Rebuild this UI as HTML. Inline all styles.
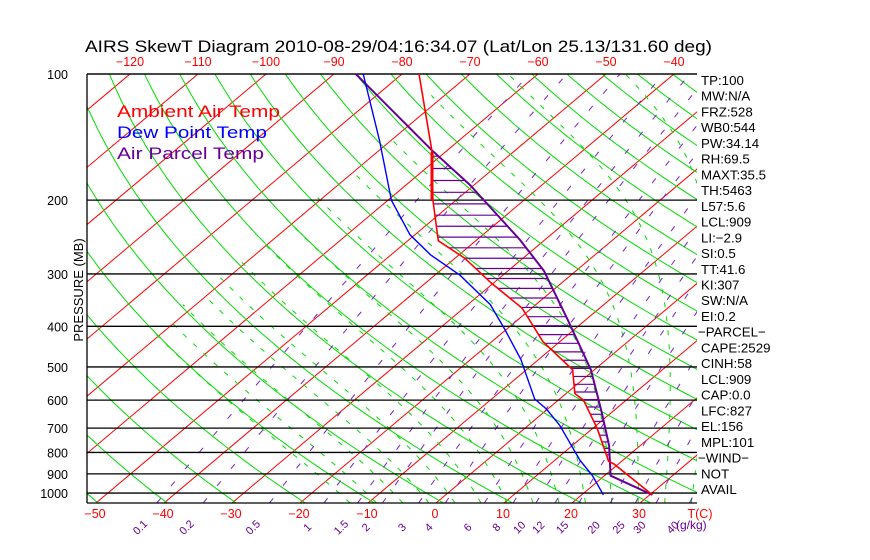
<!DOCTYPE html>
<html><head><meta charset="utf-8"><style>
body{margin:0;background:#fff;width:870px;height:560px;overflow:hidden}
svg{display:block;font-family:"Liberation Sans",sans-serif}
</style></head><body>
<svg id="c" width="870" height="560" viewBox="0 0 870 560">
<defs><clipPath id="box"><rect x="87" y="74" width="610" height="429"/></clipPath></defs>
<text x="85" y="52" font-size="16.5" fill="#000" textLength="627" lengthAdjust="spacingAndGlyphs">AIRS SkewT Diagram 2010-08-29/04:16:34.07 (Lat/Lon 25.13/131.60 deg)</text>
<text transform="translate(83,290) rotate(-90)" font-size="13" text-anchor="middle">PRESSURE (MB)</text>
<g id="bg" clip-path="url(#box)"></g>
<g id="fg"></g>
<g font-size="17">
<text x="117" y="117" fill="#ff0000" textLength="163" lengthAdjust="spacingAndGlyphs">Ambient Air Temp</text>
<text x="117" y="138" fill="#0000ff" textLength="150" lengthAdjust="spacingAndGlyphs">Dew Point Temp</text>
<text x="117" y="159" fill="#660099" textLength="147" lengthAdjust="spacingAndGlyphs">Air Parcel Temp</text>
</g>
</svg>
<script>
const pLevels=[100,200,300,400,500,600,700,800,900,1000];
const bottomTemps=[-50,-40,-30,-20,-10,0,10,20,30];
const topTemps=[-120,-110,-100,-90,-80,-70,-60,-50,-40];
const mixRatios=[0.1,0.2,0.5,1,1.5,2,3,4,6,8,10,12,15,20,25,30,40];
const tempP=[100,152,200,250,275,316,362,435,508,579,600,700,840,853,1010];
const tempT=[-77.5,-62.3,-53.4,-45.5,-38.6,-30.2,-21.4,-12.5,-3.2,1.3,3.7,10.6,18.1,19.4,30.4];
const dewP=[100,144,200,242,270,302,355,408,480,596,630,689,835,908,1010];
const dewT=[-85.7,-71.7,-59.5,-50.7,-44.2,-36.3,-26.7,-20.1,-12.6,-3.7,-0.2,4.6,13.7,18.2,23.2];
const parP=[100,152,184,249,295,389,508,638,770,909,1010];
const parT=[-86.8,-62.3,-50.6,-33.6,-24.7,-12.3,-0.5,8.3,15.4,20.9,30.4];
const sideLabels=["TP:100","MW:N/A","FRZ:528","WB0:544","PW:34.14","RH:69.5","MAXT:35.5","TH:5463","L57:5.6","LCL:909","LI:-2.9","SI:0.5","TT:41.6","KI:307","SW:N/A","EI:0.2","-PARCEL-","CAPE:2529","CINH:58","LCL:909","CAP:0.0","LFC:827","EL:156","MPL:101","-WIND-","NOT","AVAIL"];

const X0=87,X1=697,Y0=74,Y1=503,K=182,SK=510/429;
const yP=p=>Y0+K*Math.log(p/100);
const xT=(T,y)=>436+6.8*T+SK*(Y1-y);
const ns="http://www.w3.org/2000/svg";
const bg=document.getElementById('bg'),fg=document.getElementById('fg');
function mk(tag,at,par){const e=document.createElementNS(ns,tag);for(const k in at)e.setAttribute(k,at[k]);par.appendChild(e);return e;}
const pBot=100*Math.exp((Y1-Y0)/K);
function curve(fT,p0,p1,n){let pts=[];for(let i=0;i<=n;i++){const lp=Math.log(p0)+(Math.log(p1)-Math.log(p0))*i/n;const p=Math.exp(lp);const y=yP(p);pts.push(xT(fT(p),y).toFixed(1)+","+y.toFixed(1));}return pts.join(" ");}
for(let T=-160;T<=50;T+=10){
 const l=mk('line',{x1:xT(T,Y1),y1:Y1,x2:xT(T,Y0),y2:Y0,stroke:'#ff0000','stroke-width':1},bg);
 
 
}
for(let th=200;th<=520;th+=10){
 const pl=mk('polyline',{points:curve(p=>th*Math.pow(p/1000,0.286)-273.15,pBot,90,40),fill:'none',stroke:'#00dd00','stroke-width':1},bg);
 
 
}
function es(T){return 6.112*Math.exp(17.67*T/(T+243.5));}
function dTdl(Tk,p){const rs=0.622*es(Tk-273.15)/(p-es(Tk-273.15));return (287*Tk+2.5e6*rs)/(1004+2.5e6*2.5e6*rs*0.622/(287*Tk*Tk));}
for(let T0=-16;T0<=44;T0+=4){
 let pts=[],T=T0+273.15,lp=Math.log(1000);
 let Tb=T;let lpb=lp;const stepsD=10,dl=(Math.log(pBot)-lp)/stepsD;
 for(let i=0;i<stepsD;i++){Tb+=dTdl(Tb,Math.exp(lpb))*dl;lpb+=dl;}
 T=Tb;lp=lpb;const n=80,d=(Math.log(100)-lp)/n;
 for(let i=0;i<=n;i++){const p=Math.exp(lp),y=yP(p);if(T-273.15<-72)break;pts.push(xT(T-273.15,y).toFixed(1)+","+y.toFixed(1));T+=dTdl(T,p)*d;lp+=d;}
 const pl=mk('polyline',{points:pts.join(" "),fill:'none',stroke:'#00dd00','stroke-width':1,'stroke-dasharray':'5 9'},bg);
 
 
}
function tw(w,p){const e=w*p/(622+w);const a=Math.log(e/6.112);return 243.5*a/(17.67-a);}
mixRatios.forEach(w=>{
 const pl=mk('polyline',{points:curve(p=>tw(w,p),pBot,100,40),fill:'none',stroke:'#7722cc','stroke-width':1,'stroke-dasharray':'6 16'},bg);
 
 
 const x=xT(tw(w,pBot),Y1)-14;
 const t=mk('text',{x:x,y:530,'font-size':11,fill:'#660099','text-anchor':'middle',transform:`rotate(-45 ${x} 530)`},fg);
 t.textContent=w;
 
 
});
pLevels.forEach(p=>{const y=yP(p);
 const l=mk('line',{x1:X0,y1:y,x2:X1,y2:y,stroke:'#000','stroke-width':1.3},fg);
 
 
 const t=mk('text',{x:68,y:y+5,'font-size':12.5,'text-anchor':'end'},fg);t.textContent=p;
 
 
});
mk('line',{x1:X0,y1:Y1,x2:X1,y2:Y1,stroke:'#000','stroke-width':1.3},fg);
mk('line',{x1:X0,y1:Y0,x2:X1,y2:Y0,stroke:'#000','stroke-width':1.3},fg);
mk('line',{x1:X0,y1:Y0,x2:X0,y2:Y1,stroke:'#000','stroke-width':1.3},fg);
bottomTemps.forEach(T=>{const t=mk('text',{x:xT(T,Y1)-1,y:518,'font-size':12.5,fill:'#ff0000','text-anchor':'middle'},fg);t.textContent=T<0?'\u2212'+(-T):T;
 
 });
const tc=mk('text',{x:700,y:518,'font-size':12.5,fill:'#ff0000','text-anchor':'middle'},fg);tc.textContent='T(C)';


const gk=mk('text',{x:676,y:529,'font-size':12,fill:'#660099'},fg);gk.textContent='(g/kg)';


topTemps.forEach(T=>{const t=mk('text',{x:xT(T,Y0),y:66,'font-size':12.5,fill:'#ff0000','text-anchor':'middle'},fg);t.textContent='\u2212'+(-T);
 
 });
function xAt(P,T,y){const pts=P.map((p,i)=>[xT(T[i],yP(p)),yP(p)]);for(let i=0;i<pts.length-1;i++){if(y>=pts[i][1]&&y<=pts[i+1][1]){const f=(y-pts[i][1])/(pts[i+1][1]-pts[i][1]||1);return pts[i][0]+f*(pts[i+1][0]-pts[i][0]);}}return null;}
{let y=yP(152)+6;while(y<yP(855)){const a=xAt(tempP,tempT,y),b=xAt(parP,parT,y);if(a!=null&&b!=null&&b>a){
 const l=mk('line',{x1:a,y1:y,x2:b,y2:y,stroke:'#660099','stroke-width':1.2},fg);
 
 }
 y+=12-6*(y-170)/300;}}
function prof(P,T,col,w,name){const pl=mk('polyline',{points:P.map((p,i)=>xT(T[i],yP(p)).toFixed(1)+","+yP(p).toFixed(1)).join(" "),fill:'none',stroke:col,'stroke-width':w},fg);
 
 }
prof(parP,parT,'#660099',2,'parcel-temp-line');
prof(tempP,tempT,'#ff0000',1.6,'ambient-temp-line');
prof(dewP,dewT,'#0000ff',1.4,'dewpoint-line');
mk('line',{x1:432,y1:152,x2:432,y2:200,stroke:'#ff0000','stroke-width':3},fg);
sideLabels.forEach((s,i)=>{const t=mk('text',{x:s[0]=='-'?698:701,y:85+i*15.73,'font-size':13.3},fg);t.textContent=s.replace(/^-/,'\u2212').replace(/-$/,'\u2212').replace(/:-/,':\u2212');
 
 });
</script>
</body></html>
